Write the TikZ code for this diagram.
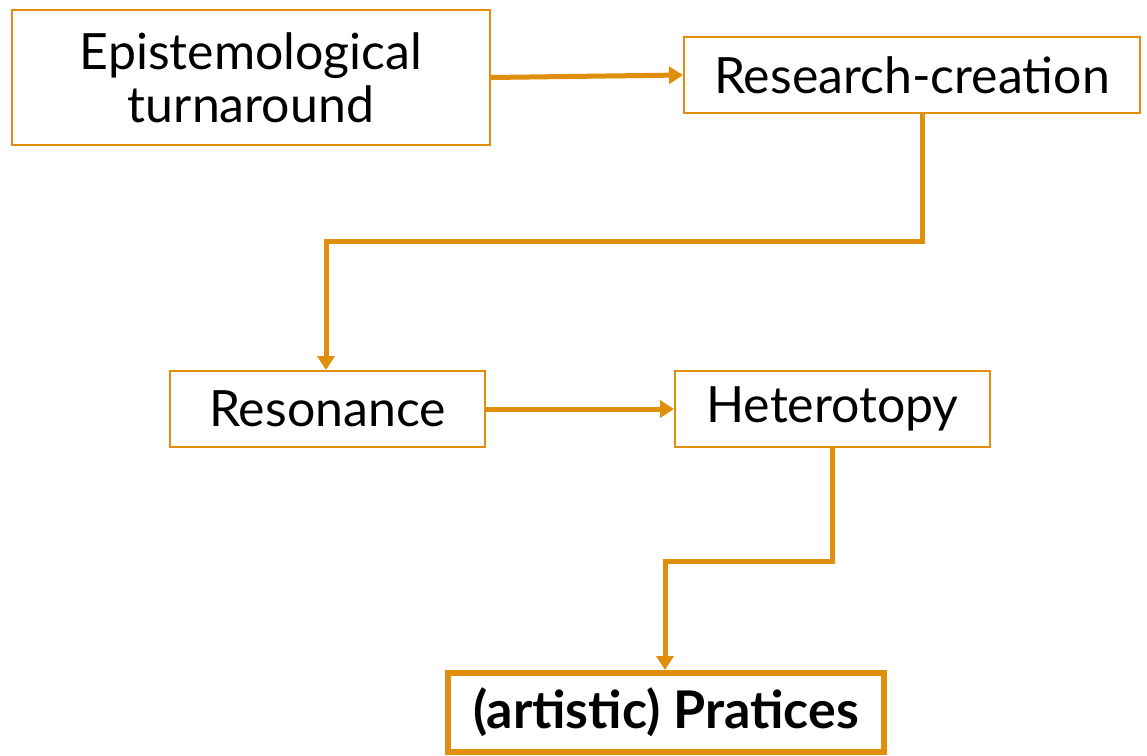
\documentclass[tikz,border=0pt]{standalone}
\usepackage{fontspec}
\setmainfont{Lato}
\usetikzlibrary{arrows.meta}
\definecolor{org}{RGB}{224,142,11}
\begin{document}
\begin{tikzpicture}[x=1pt,y=-1pt,
  box/.style={draw=org,line width=2pt,fill=white,inner sep=0pt,font=\fontsize{50}{53}\selectfont,align=center},
  conn/.style={draw=org,line width=5pt,-{Triangle[length=14pt,width=17pt]}}]
\useasboundingbox (0,0) rectangle (1147,755);
\node[box,minimum width=478pt,minimum height=135pt] (epi) at (251,77.5) {Epistemological\\turnaround};
\node[box,minimum width=456pt,minimum height=76pt] (res) at (912,75) {Research-creation};
\node[box,minimum width=315pt,minimum height=76pt] (reso) at (327.5,409) {Resonance};
\node[box,minimum width=315pt,minimum height=76pt] (het) at (832.5,409) {Heterotopy};
\node[box,line width=6pt,minimum width=436pt,minimum height=79pt,font=\fontsize{52}{56}\selectfont\bfseries] (pra) at (666,712.5) {(artistic) Pratices};
\coordinate (c1) at (922,241);
\coordinate (c2) at (326,241);
\coordinate (c3) at (832,561);
\coordinate (c4) at (665,561);
\draw[conn] (epi.east) -- (res.west);
\draw[conn] (res.south -| c1) -- (c1) -- (c2) -- (reso.north -| c2);
\draw[conn] (reso.east) -- (het.west);
\draw[conn] (het.south -| c3) -- (c3) -- (c4) -- (pra.north -| c4);
\end{tikzpicture}
\end{document}
